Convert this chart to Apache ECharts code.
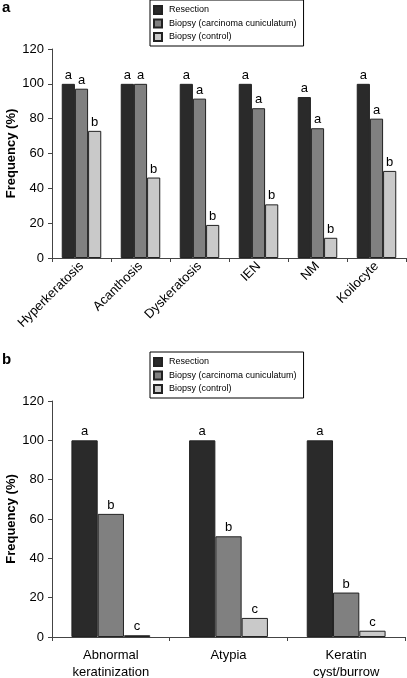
<!DOCTYPE html>
<html>
<head>
<meta charset="utf-8">
<script src="https://cdn.jsdelivr.net/npm/echarts@6/dist/echarts.min.js"></script>
<style>
html,body{margin:0;padding:0;background:#fff;}
#chart{width:407px;height:678px;}
</style>
</head>
<body>
<div id="chart"></div>
<script>
// ---- Data ----
var seriesNames = ['Resection', 'Biopsy (carcinoma cuniculatum)', 'Biopsy (control)'];
var yTicks = [0, 20, 40, 60, 80, 100, 120];

var topCategories = ['Hyperkeratosis', 'Acanthosis', 'Dyskeratosis', 'IEN', 'NM', 'Koilocyte'];
var topResection = [100, 100, 100, 100, 92.4, 100];
var topBiopsyCC = [97.2, 100, 91.5, 86, 74.5, 80];
var topBiopsyControl = [73, 46.2, 19, 30.8, 11.6, 50];
var topLettersResection = ['a', 'a', 'a', 'a', 'a', 'a'];
var topLettersCC = ['a', 'a', 'a', 'a', 'a', 'a'];
var topLettersControl = ['b', 'b', 'b', 'b', 'b', 'b'];

var bottomCategories = ['Abnormal\nkeratinization', 'Atypia', 'Keratin\ncyst/burrow'];
var bottomResection = [100, 100, 100];
var bottomBiopsyCC = [62.6, 51.2, 22.6];
var bottomBiopsyControl = [0.9, 9.7, 3.2];
var bottomLettersResection = ['a', 'a', 'a'];
var bottomLettersCC = ['b', 'b', 'b'];
var bottomLettersControl = ['c', 'c', 'c'];

// ---- Styles ----
var FONT = 'Liberation Sans, Arial, sans-serif';
var colors = ['#2a2a2a', '#808080', '#c9c9c9'];
var axisColor = '#444';

function yAxis(gridIndex) {
  return {
    type: 'value', gridIndex: gridIndex, min: yTicks[0], max: yTicks[yTicks.length - 1], interval: yTicks[1] - yTicks[0],
    name: 'Frequency (%)', nameLocation: 'middle', nameGap: 34, nameMoveOverlap: false,
    nameTextStyle: {fontFamily: FONT, fontSize: 13, fontWeight: 'bold', color: '#000'},
    axisLine: {show: true, lineStyle: {color: axisColor, width: 1}},
    axisTick: {show: true, length: 4, lineStyle: {color: axisColor}},
    axisLabel: {fontFamily: FONT, fontSize: 13, color: '#000', margin: 8},
    splitLine: {show: false}
  };
}

function xAxis(gridIndex, cats, rotate, margin) {
  return {
    type: 'category', gridIndex: gridIndex, data: cats,
    axisLine: {show: true, lineStyle: {color: axisColor, width: 1}},
    axisTick: {show: true, length: 4, interval: 0, lineStyle: {color: axisColor}},
    axisLabel: {interval: 0, rotate: rotate, fontFamily: FONT, fontSize: 13, color: '#000', margin: margin, lineHeight: 17}
  };
}

function barSeries(name, idx, gridIdx, data, letters) {
  return {
    name: name, type: 'bar', xAxisIndex: gridIdx, yAxisIndex: gridIdx, data: data,
    barGap: '0%', barCategoryGap: '33%',
    itemStyle: {color: colors[idx], borderColor: '#222', borderWidth: 1},
    label: {
      show: true, position: 'top', distance: 2, fontFamily: FONT, fontSize: 13, color: '#000',
      formatter: function (p) { return letters[p.dataIndex]; }
    },
    emphasis: {disabled: true},
    animation: false
  };
}

function legend(top) {
  return {
    orient: 'vertical', left: 150, top: top,
    data: seriesNames.map(function (n) { return {name: n, icon: 'rect'}; }),
    itemWidth: 8, itemHeight: 8, itemGap: 3.5,
    padding: [5, 7, 4, 3],
    borderColor: '#000', borderWidth: 1,
    textStyle: {fontFamily: FONT, fontSize: 9, color: '#000', padding: [0, 0, 0, 2]},
    selectedMode: false
  };
}

var chart = echarts.init(document.getElementById('chart'), null, {renderer: 'canvas'});
chart.setOption({
  animation: false,
  backgroundColor: '#fff',
  legend: [legend(0), legend(352)],
  grid: [
    {left: 52, right: 1, top: 49, height: 209, containLabel: false, outerBoundsMode: 'none'},
    {left: 52, right: 2, top: 401, height: 236, containLabel: false, outerBoundsMode: 'none'}
  ],
  xAxis: [xAxis(0, topCategories, 45, 6), xAxis(1, bottomCategories, 0, 10)],
  yAxis: [yAxis(0), yAxis(1)],
  graphic: [
    {type: 'text', left: 2, top: 0, style: {text: 'a', font: 'bold 15px ' + FONT, fill: '#000'}},
    {type: 'text', left: 2, top: 352, style: {text: 'b', font: 'bold 15px ' + FONT, fill: '#000'}}
  ],
  series: [
    barSeries(seriesNames[0], 0, 0, topResection, topLettersResection),
    barSeries(seriesNames[1], 1, 0, topBiopsyCC, topLettersCC),
    barSeries(seriesNames[2], 2, 0, topBiopsyControl, topLettersControl),
    barSeries(seriesNames[0], 0, 1, bottomResection, bottomLettersResection),
    barSeries(seriesNames[1], 1, 1, bottomBiopsyCC, bottomLettersCC),
    barSeries(seriesNames[2], 2, 1, bottomBiopsyControl, bottomLettersControl)
  ]
});
</script>
</body>
</html>
